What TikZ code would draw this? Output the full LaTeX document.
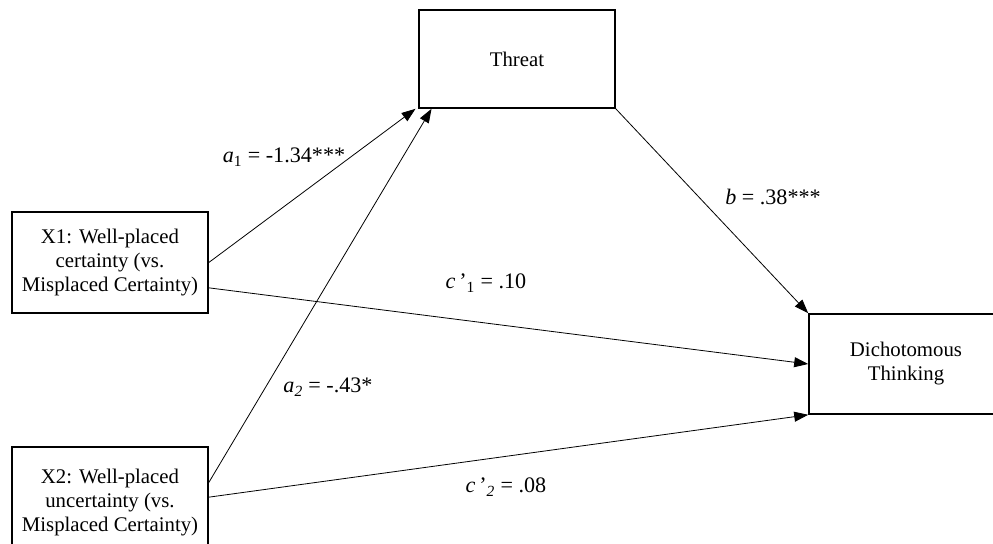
\documentclass[tikz,border=0pt]{standalone}
\usepackage{fontspec}
\setmainfont{Liberation Serif}
\usetikzlibrary{arrows.meta}

\begin{document}
\begin{tikzpicture}[x=0.75pt,y=-0.75pt,>={Triangle[length=10.5pt,width=7.5pt]},
    varbox/.style={draw,line width=1.2pt,align=center,inner sep=0pt,
        font=\fontsize{15.6}{18}\selectfont},
    link/.style={->,line width=0.6pt},
    coef/.style={font=\fontsize{16.6}{19}\selectfont}]
    \useasboundingbox (0,0) rectangle (993,543);
    \clip (0,0) rectangle (993,543);

    % Variables
    \node[varbox,minimum width=147pt,minimum height=73.5pt] (threat) at (517,59) {Threat};
    \node[varbox,minimum width=147pt,minimum height=75.75pt] (xone) at (110,262.5)
        {X1: Well-placed\\certainty (vs.\\Misplaced Certainty)};
    \node[varbox,minimum width=147pt,minimum height=83pt] (xtwo) at (110,502.5)
        {X2: Well-placed\\uncertainty (vs.\\Misplaced Certainty)};
    \node[varbox,minimum width=145.5pt,minimum height=75pt] (dich) at (906,364)
        {Dichotomous\\Thinking};

    % Paths
    \draw[link] (xone.east) -- ([xshift=-2pt]threat.south west);
    \draw[link] ([yshift=15pt]xtwo.east) -- ([xshift=10pt]threat.south west);
    \draw[link] (threat.south east) -- (dich.north west);
    \draw[link] ([yshift=-19pt]xone.east) -- (dich.west);
    \draw[link] ([yshift=4pt]xtwo.east) -- (dich.south west);

    % Coefficients
    \node[coef] (aone) at (284,157) {\textit{a}\textsubscript{1} = -1.34***};
    \node[coef] (atwo) at (328,387) {\textit{a}\textsubscript{\textit{2}} = -.43*};
    \node[coef] (bcoef) at (773,197) {\textit{b} = .38***};
    \node[coef] (cone) at (486,283) {\textit{c}\,’\textsubscript{1} = .10};
    \node[coef] (ctwo) at (506,487) {\textit{c}\,’\textsubscript{\textit{2}} = .08};
\end{tikzpicture}
\end{document}
